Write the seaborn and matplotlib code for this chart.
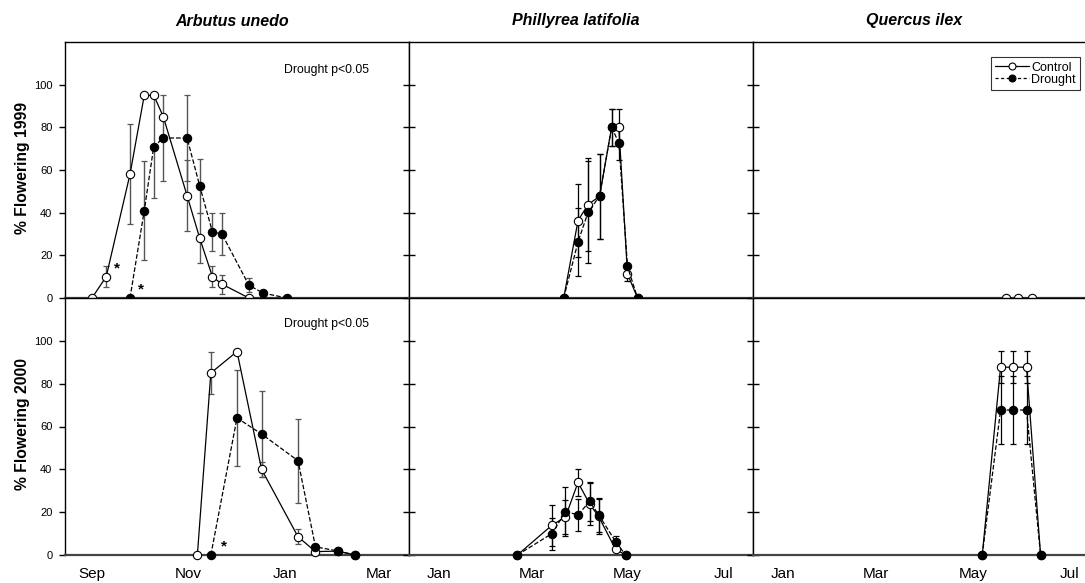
import numpy as np
import pandas as pd
import matplotlib
matplotlib.use("Agg")
import matplotlib.pyplot as plt
from matplotlib.lines import Line2D
import seaborn as sns

# ---------------- data (days since first month label of each column) ----------------
species = ["Arbutus unedo", "Phillyrea latifolia", "Quercus ilex"]
years = ["1999", "2000"]
month_labels_col1 = ["Sep", "Nov", "Jan", "Mar"]
month_days_col1 = [0, 61, 122, 181]
month_labels_col23 = ["Jan", "Mar", "May", "Jul"]
month_days_col23 = [0, 59, 120, 181]

# Arbutus unedo 1999
au99_c_day = [0, 9, 24, 33, 39, 45, 60, 68, 76, 82, 99]
au99_c_val = [0, 10, 58, 95, 95, 85, 48, 28, 10, 6.5, 0]
au99_c_err = [0, 5, 23.5, 0, 0, 0, 16.7, 11.7, 5, 4.5, 0]
au99_d_day = [24, 33, 39, 45, 60, 68, 76, 82, 99, 108, 123]
au99_d_val = [0, 41, 71, 75, 75, 52.5, 31, 30, 6, 2.3, 0]
au99_d_err = [0, 23, 24, 20, 20, 12.5, 9, 10, 3.3, 0, 0]

# Arbutus unedo 2000
au00_c_day = [66.5, 75, 91.5, 107, 130, 141, 155, 166]
au00_c_val = [0, 85, 95, 40, 8.5, 1.6, 1.8, 0]
au00_c_err = [0, 10, 0, 3.5, 3.5, 0, 0, 0]
au00_d_day = [75, 91.5, 107, 130, 141, 155, 166]
au00_d_val = [0, 64, 56.5, 44, 3.8, 1.9, 0]
au00_d_err = [0, 22.5, 20, 19.5, 0, 0, 0]

# Phillyrea latifolia 1999
pl99_c_day = [79.5, 88.6, 95, 102.3, 110, 114.6, 120.1, 126.5]
pl99_c_val = [0, 36.3, 43.8, 47.7, 80, 80, 11.3, 0]
pl99_c_err = [0, 17, 22, 20, 8.6, 8.6, 3.5, 0]
pl99_d_day = [79.5, 88.6, 95, 102.3, 110, 114.6, 120.1, 126.5]
pl99_d_val = [0, 26.3, 40.2, 47.7, 80, 72.7, 14.8, 0]
pl99_d_err = [0, 16, 24, 20, 8.6, 8, 0, 0]

# Phillyrea latifolia 2000
pl00_c_day = [50, 72, 80.6, 88.6, 96, 101.7, 112.5, 118.9]
pl00_c_val = [0, 13.9, 17.7, 33.9, 23.8, 18, 2.7, 0]
pl00_c_err = [0, 9.5, 8, 6.4, 10, 8, 0, 0]
pl00_d_day = [50, 72, 80.6, 88.6, 96, 101.7, 112.5, 118.9]
pl00_d_val = [0, 10, 20.2, 18.8, 25, 18.8, 6.3, 0]
pl00_d_err = [0, 7.5, 11.4, 7.4, 9, 8, 2.5, 0]

# Quercus ilex 1999 (control only)
qi99_c_day = [141, 148.7, 157.2]
qi99_c_val = [0, 0, 0]
qi99_c_err = [0, 0, 0]

# Quercus ilex 2000
qi00_c_day = [126, 137.6, 145.4, 154, 162.9]
qi00_c_val = [0, 87.7, 87.7, 87.7, 0]
qi00_c_err = [0, 7.6, 7.6, 7.6, 0]
qi00_d_day = [126, 137.6, 145.4, 154, 162.9]
qi00_d_val = [0, 67.7, 67.7, 67.7, 0]
qi00_d_err = [0, 15.8, 15.8, 15.8, 0]

# significance annotations (column, row, day, value)
asterisks = [(0, 0, 16, 14), (0, 0, 31, 4), (0, 1, 83, 4)]
sig_text = "Drought p<0.05"

# ---------------- style ----------------
sns.set_theme(style="white")
plt.rcParams["font.family"] = ["Liberation Sans", "DejaVu Sans"]
plt.rcParams["axes.edgecolor"] = "black"
plt.rcParams["xtick.color"] = "black"
plt.rcParams["ytick.color"] = "black"
plt.rcParams["text.color"] = "black"

W, H = 1085, 583
fig = plt.figure(figsize=(W / 100, H / 100), dpi=100)

col_px = [(65, 409), (409, 753), (753, 1085)]
row_px = [(42, 298), (298, 555)]
xlims = [(-17, 200), (-19, 200), (-19, 191)]

panels = {
    (0, 0): ((au99_c_day, au99_c_val, au99_c_err), (au99_d_day, au99_d_val, au99_d_err)),
    (0, 1): ((au00_c_day, au00_c_val, au00_c_err), (au00_d_day, au00_d_val, au00_d_err)),
    (1, 0): ((pl99_c_day, pl99_c_val, pl99_c_err), (pl99_d_day, pl99_d_val, pl99_d_err)),
    (1, 1): ((pl00_c_day, pl00_c_val, pl00_c_err), (pl00_d_day, pl00_d_val, pl00_d_err)),
    (2, 0): ((qi99_c_day, qi99_c_val, qi99_c_err), None),
    (2, 1): ((qi00_c_day, qi00_c_val, qi00_c_err), (qi00_d_day, qi00_d_val, qi00_d_err)),
}

axes = {}
for c, (x0, x1) in enumerate(col_px):
    for r, (y0, y1) in enumerate(row_px):
        ax = fig.add_axes([x0 / W, 1 - y1 / H, (x1 - x0) / W, (y1 - y0) / H])
        axes[(c, r)] = ax
        ax.set_facecolor("white")
        ax.set_xlim(*xlims[c])
        ax.set_ylim(0, 120)

        ebar_col = "#555555" if c == 0 else "black"
        ctrl, drt = panels[(c, r)]
        for series, face, ls in ((ctrl, "white", "-"), (drt, "black", "--")):
            if series is None:
                continue
            d, v, e = series
            df = pd.DataFrame({"day": d, "val": v, "err": e})
            mask = df["err"] > 0
            ax.errorbar(df.loc[mask, "day"], df.loc[mask, "val"], yerr=df.loc[mask, "err"],
                        fmt="none", ecolor=ebar_col, elinewidth=1.0 if c == 0 else 0.9,
                        capsize=2.2, capthick=0.9, clip_on=False, zorder=2)
            sns.lineplot(data=df, x="day", y="val", ax=ax, sort=False, estimator=None,
                         color="black", linestyle=ls, linewidth=0.9,
                         marker="o", markersize=6, markerfacecolor=face,
                         markeredgecolor="black", markeredgewidth=0.8,
                         dashes=False if ls == "-" else (3.5, 2.5),
                         clip_on=False, zorder=3 if face == "white" else 4)
        ax.set_xlabel("")
        ax.set_ylabel("")

        # spines
        for s in ax.spines.values():
            s.set_linewidth(1.0)
            s.set_color("black")
        ax.spines["bottom"].set_linewidth(1.6)
        ax.spines["bottom"].set_color("#444444")
        if c == 2:
            ax.spines["right"].set_visible(False)

        ax.set_yticks([0, 20, 40, 60, 80, 100])
        if c == 0:
            ax.tick_params(axis="y", left=True, right=False, direction="out", length=4,
                           width=1, labelsize=8, pad=5)
            ax.set_yticklabels(["0", "20", "40", "60", "80", "100"])
        else:
            ax.tick_params(axis="y", left=True, right=False, direction="inout", length=9,
                           width=1, labelleft=False)

        if r == 1:
            ticks = month_days_col1 if c == 0 else month_days_col23
            labels = month_labels_col1 if c == 0 else month_labels_col23
            ax.set_xticks(ticks)
            ax.set_xticklabels(labels)
            ax.tick_params(axis="x", length=0, labelsize=11, pad=16.5)
            for lab in ax.get_xticklabels():
                lab.set_verticalalignment("baseline")
        else:
            ax.set_xticks([])
        ax.grid(False)

# annotations
for c, r, d, v in asterisks:
    axes[(c, r)].text(d, v, "*", fontsize=11, fontweight="bold", ha="center", va="center")
axes[(0, 0)].text(148, 107, sig_text, fontsize=8.8, ha="center", va="center")
axes[(0, 1)].text(148, 108, sig_text, fontsize=8.8, ha="center", va="center")

# titles
for c, name in enumerate(species):
    x0, x1 = col_px[c]
    cx = (x0 + x1) / 2 - 5
    fig.text(cx / W, 1 - 21 / H, name, fontsize=11.5, fontweight="bold", fontstyle="italic",
             ha="center", va="center")

# y labels
for r, yr in enumerate(years):
    y0, y1 = row_px[r]
    fig.text(22 / W, 1 - ((y0 + y1) / 2 - 2) / H, f"% Flowering {yr}", rotation=90,
             fontsize=11.3, fontweight="bold", ha="center", va="center")

# legend
handles = [
    Line2D([], [], color="black", linestyle="-", linewidth=0.9, marker="o", markersize=5,
           markerfacecolor="white", markeredgecolor="black", markeredgewidth=0.8),
    Line2D([], [], color="black", linestyle="--", linewidth=0.9, marker="o", markersize=5,
           markerfacecolor="black", markeredgecolor="black", markeredgewidth=0.8, dashes=(2.5, 2)),
]
leg = axes[(2, 0)].legend(handles, ["Control", "Drought"], loc="upper right",
                          bbox_to_anchor=(0.985, 0.94), borderaxespad=0, fontsize=9,
                          frameon=True, fancybox=False, handlelength=2.7, handletextpad=0.15,
                          borderpad=0.35, labelspacing=0.0)
leg.get_frame().set_edgecolor("black")
leg.get_frame().set_linewidth(0.8)

fig.savefig("out.png", dpi=100, facecolor="white")
